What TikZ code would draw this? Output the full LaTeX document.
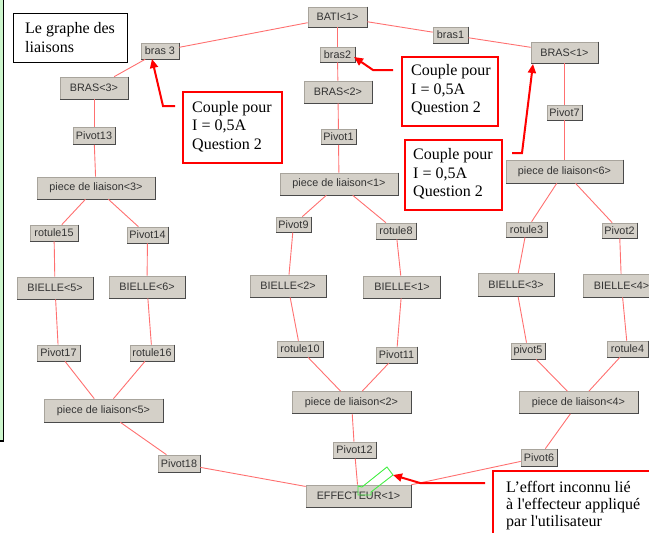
\documentclass[tikz,border=0pt]{standalone}
\usepackage{fontspec}
\setmainfont{Liberation Serif}
\newfontfamily\btnfont{Liberation Sans}
\newfontfamily\serifq[Ligatures=TeXOff]{Liberation Serif}
\usetikzlibrary{arrows.meta}
\definecolor{btn}{HTML}{D4D0C8}
\definecolor{btnshade}{HTML}{4A4A4A}
\definecolor{btnedge}{HTML}{A8A49C}
\definecolor{linkred}{HTML}{FF7070}
\definecolor{callred}{HTML}{FF0000}
\definecolor{selgreen}{HTML}{44EE44}
\definecolor{stripgreen}{HTML}{CCF5CC}
\begin{document}
\begin{tikzpicture}[x=1pt,y=-1pt,
  nd/.style 2 args={draw=btnedge, line width=0.6pt, fill=btn, minimum width=#1pt, minimum height=#2pt, inner sep=0pt, font=\btnfont\fontsize{10.8}{12}\selectfont, text=black!80},
  linkline/.style={draw=linkred, line width=0.9pt},
  callbox/.style={draw=callred, line width=2pt},
  calltext/.style={align=left, anchor=west, inner sep=0pt, font=\serifq\fontsize{16}{18.3}\selectfont},
  callarrow/.style={draw=callred, line width=2pt, -{Triangle[length=9pt,width=8pt]}},
  shadeline/.style={draw=btnshade, line width=1.3pt},
]
\useasboundingbox (0,0) rectangle (649,533);

% left strip (cut-off frame)
\fill[stripgreen] (-5,-5) rectangle (3.5,441);
\draw[black, line width=1.2pt] (3.5,-5) -- (3.5,441) -- (-5,441);

% title box
\node[draw=black, line width=0.8pt, minimum width=114pt, minimum height=49pt, inner sep=0pt] (titlebox) at (70,37.5) {};
\node[calltext] (titletext) at (25,37.5) {Le graphe des\\liaisons};

% nodes
\node[nd={59}{20}] (bati) at (337.5,17) {BATI<1>};
\node[nd={35}{16}] (brasone) at (450.5,35) {bras1};
\node[nd={67}{21}] (BRASone) at (564.5,52.5) {BRAS<1>};
\node[nd={38}{16}] (brasthree) at (160,51) {bras 3};
\node[nd={35}{15}] (brastwo) at (337.5,54.5) {bras2};
\node[nd={68}{22}] (BRASthree) at (94,88) {BRAS<3>};
\node[nd={68}{22}] (BRAStwo) at (338,92) {BRAS<2>};
\node[nd={35}{15}] (pvseven) at (564.5,112.5) {Pivot7};
\node[nd={42}{17}] (pvthirteen) at (94,136) {Pivot13};
\node[nd={35}{15}] (pvone) at (338.5,137) {Pivot1};
\node[nd={117}{23}] (plsix) at (564.5,171.5) {piece de liaison<6>};
\node[nd={118}{22}] (plthree) at (96,188) {piece de liaison<3>};
\node[nd={118}{22}] (plone) at (339,184) {piece de liaison<1>};
\node[nd={48}{16}] (rotfifteen) at (54,233) {rotule15};
\node[nd={41}{16}] (pvfourteen) at (147.5,235) {Pivot14};
\node[nd={35}{15}] (pvnine) at (293.5,224.5) {Pivot9};
\node[nd={40}{16}] (roteight) at (396,231) {rotule8};
\node[nd={41}{15}] (rotthree) at (526.5,229.5) {rotule3};
\node[nd={35}{15}] (pvtwo) at (619.5,230.5) {Pivot2};
\node[nd={76}{22}] (bfive) at (55,288) {BIELLE<5>};
\node[nd={76}{22}] (bsix) at (147,287) {BIELLE<6>};
\node[nd={76}{22}] (btwo) at (288,286) {BIELLE<2>};
\node[nd={77}{22}] (bone) at (402,287) {BIELLE<1>};
\node[nd={76}{23}] (bthree) at (516,285) {BIELLE<3>};
\node[nd={76}{23}] (bfour) at (621.5,285.5) {BIELLE<4>};
\node[nd={43}{16}] (pvseventeen) at (58.5,353) {Pivot17};
\node[nd={44}{16}] (rotsixteen) at (152,353) {rotule16};
\node[nd={46}{16}] (rotten) at (300,349) {rotule10};
\node[nd={41}{16}] (pveleven) at (396.5,355) {Pivot11};
\node[nd={34}{16}] (pvfive) at (528,351) {pivot5};
\node[nd={41}{16}] (rotfour) at (627.5,349) {rotule4};
\node[nd={119}{23}] (plfive) at (103.5,410.5) {piece de liaison<5>};
\node[nd={119}{22}] (pltwo) at (351.5,402.5) {piece de liaison<2>};
\node[nd={119}{22}] (plfour) at (578.5,402.5) {piece de liaison<4>};
\node[nd={42}{17}] (pveighteen) at (179,463.5) {Pivot18};
\node[nd={43}{16}] (pvtwelve) at (354.5,450) {Pivot12};
\node[nd={36}{17}] (pvsix) at (539,457.5) {Pivot6};
\node[nd={105}{22}] (eff) at (358.5,496) {EFFECTEUR<1>};

% 3D shading of buttons
\foreach \n in {bati,brasone,BRASone,brasthree,brastwo,BRASthree,BRAStwo,pvseven,pvthirteen,pvone,plsix,plthree,plone,rotfifteen,pvfourteen,pvnine,roteight,rotthree,pvtwo,bfive,bsix,btwo,bone,bthree,bfour,pvseventeen,rotsixteen,rotten,pveleven,pvfive,rotfour,plfive,pltwo,plfour,pveighteen,pvtwelve,pvsix,eff}
  {\draw[shadeline] (\n.north east) -- (\n.south east) -- (\n.south west);}

% links
\foreach \a/\b in {bati/brasthree,bati/brastwo,bati/brasone,brasone/BRASone,brasthree/BRASthree,brastwo/BRAStwo,
  BRASthree/pvthirteen,pvthirteen/plthree,BRAStwo/pvone,pvone/plone,BRASone/pvseven,pvseven/plsix,
  plthree/rotfifteen,plthree/pvfourteen,rotfifteen/bfive,pvfourteen/bsix,bfive/pvseventeen,bsix/rotsixteen,
  pvseventeen/plfive,rotsixteen/plfive,plfive/pveighteen,pveighteen/eff,
  plone/pvnine,plone/roteight,pvnine/btwo,roteight/bone,btwo/rotten,bone/pveleven,rotten/pltwo,pveleven/pltwo,
  pltwo/pvtwelve,pvtwelve/eff,
  plsix/rotthree,plsix/pvtwo,rotthree/bthree,pvtwo/bfour,bthree/pvfive,bfour/rotfour,pvfive/plfour,rotfour/plfour,
  plfour/pvsix,pvsix/eff}
  {\draw[linkline] (\a) -- (\b);}

% green selection marker
\draw[selgreen, line width=0.9pt] (387,467) -- (393,475) -- (371,492) -- (371,495) -- (358,495) -- (358,486) -- (362,487) -- cycle;

% callout boxes
\node[callbox, minimum width=99pt, minimum height=71pt, inner sep=0pt] (boxa) at (232.5,127.5) {};
\node[calltext] (texta) at (192,126.7) {Couple pour\\I = 0,5A\\Question 2};
\node[callbox, minimum width=96pt, minimum height=69pt, inner sep=0pt] (boxb) at (450,91.5) {};
\node[calltext] (textb) at (411,90) {Couple pour\\I = 0,5A\\Question 2};
\node[callbox, minimum width=97pt, minimum height=70pt, inner sep=0pt] (boxc) at (453.5,175) {};
\node[calltext] (textc) at (413,174) {Couple pour\\I = 0,5A\\Question 2};
\node[callbox, minimum width=170pt, minimum height=80pt, inner sep=0pt] (boxd) at (578,511) {};
\node[calltext, font=\serifq\fontsize{16}{17}\selectfont] (textd) at (506,506) {L’effort inconnu lié\\à l'effecteur appliqué\\par l'utilisateur};

% callout arrows
\coordinate (sa) at (175,106); \coordinate (ka) at (163,106); \coordinate (ta) at (152,59);
\coordinate (sb) at (393,70); \coordinate (kb) at (373,70); \coordinate (tb) at (354,57);
\coordinate (sc) at (512,153); \coordinate (kc) at (522,153); \coordinate (tc) at (533,64);
\coordinate (sd) at (485,483); \coordinate (kd) at (420,483); \coordinate (td) at (393,475);
\draw[callarrow] (sa) -- (ka) -- (ta);
\draw[callarrow] (sb) -- (kb) -- (tb);
\draw[callarrow] (sc) -- (kc) -- (tc);
\draw[callarrow] (sd) -- (kd) -- (td);
\end{tikzpicture}
\end{document}
